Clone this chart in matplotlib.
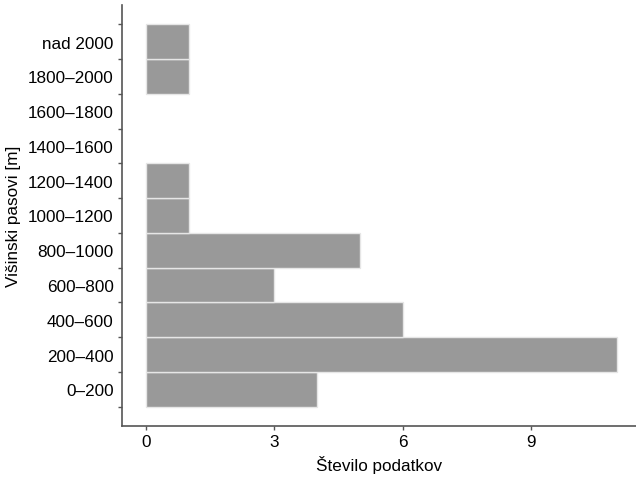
import matplotlib.pyplot as plt
import numpy as np

plt.rcParams['font.family'] = ['Liberation Sans', 'DejaVu Sans']

# elevation bands and counts
pasovi = ['0–200', '200–400', '400–600', '600–800', '800–1000', '1000–1200',
          '1200–1400', '1400–1600', '1600–1800', '1800–2000', 'nad 2000']
stevilo = [4, 11, 6, 3, 5, 1, 1, 0, 0, 1, 1]
spodaj = [0, 200, 400, 600, 800, 1000, 1200, 1400, 1600, 1800, 2000]
sirina = 200

fig = plt.figure(figsize=(6.36, 4.81), dpi=100)
ax = fig.add_axes([122 / 636, 54 / 481, 1 - 122 / 636, (427 - 6) / 481])

sredine = np.array(spodaj) + sirina / 2
debeline = [1.0 if v > 0 else 0 for v in stevilo]  # no outline for empty bands
ax.barh(sredine, stevilo, height=sirina, color='#999999', edgecolor='#e6e6e6', linewidth=debeline)

ax.set_xlim(-0.56, 11.44)
ax.set_ylim(-110, 2310)

fs = 12.3
ax.set_xticks([0, 3, 6, 9])
ax.set_yticks(list(spodaj) + [spodaj[-1] + sirina])
ax.set_yticklabels([])
ax.set_yticks(sredine, minor=True)
ax.set_yticklabels(pasovi, minor=True)
ax.tick_params(axis='y', which='minor', length=0, pad=6, labelsize=fs)
ax.tick_params(axis='y', which='major', length=3, color='#555555', width=1)
ax.tick_params(axis='x', length=3, color='#555555', width=1, labelsize=fs, pad=3)

for s in ['top', 'right']:
    ax.spines[s].set_visible(False)
for s in ['left', 'bottom']:
    ax.spines[s].set_color('#555555')
    ax.spines[s].set_linewidth(1.2)

ax.set_xlabel('Število podatkov', fontsize=fs, labelpad=4)
ax.set_ylabel('Višinski pasovi [m]', fontsize=fs, labelpad=5)

plt.savefig('out.png', dpi=100)
